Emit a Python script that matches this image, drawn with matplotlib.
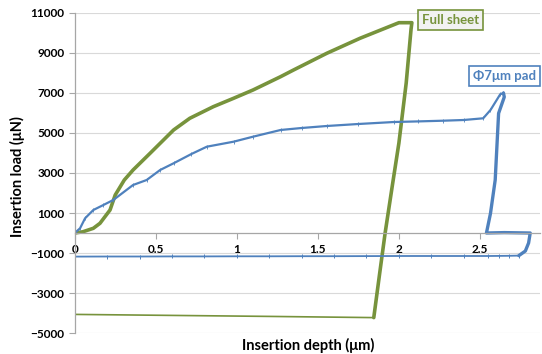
import matplotlib
matplotlib.use('Agg')
import matplotlib.pyplot as plt

# Full sheet: loading + unloading, then return line
green_x = [0, 0.05, 0.115, 0.156, 0.218, 0.25, 0.306, 0.36, 0.465, 0.61, 0.71, 0.855, 0.98, 1.10, 1.27,
           1.35, 1.555, 1.76, 2.0, 2.08, 2.075, 2.045, 2.0, 1.96, 1.915, 1.88, 1.845]
green_y = [0, 60, 235, 485, 1150, 1900, 2650, 3150, 3985, 5150, 5735, 6315, 6735, 7150, 7815,
           8150, 8985, 9735, 10515, 10515, 10200, 7500, 4500, 2400, 0, -2100, -4230]
green_ret_x = [1.845, 1.2, 0.6, 0]
green_ret_y = [-4230, -4170, -4120, -4070]

# 7um pad: loading, unloading, return line
blue_load_x = [0, 0.033, 0.064, 0.115, 0.177, 0.238, 0.36, 0.444, 0.527, 0.61, 0.72, 0.815, 0.98, 1.10,
               1.27, 1.40, 1.555, 1.75, 1.97, 2.12, 2.275, 2.40, 2.52, 2.565, 2.625, 2.645]
blue_load_y = [0, 235, 735, 1150, 1400, 1650, 2400, 2650, 3150, 3485, 3950, 4315, 4565, 4815,
               5150, 5250, 5350, 5450, 5550, 5580, 5615, 5650, 5735, 6150, 6935, 7000]
blue_unload_x = [2.645, 2.65, 2.615, 2.594, 2.565, 2.54, 2.65, 2.81, 2.80, 2.78, 2.74]
blue_unload_y = [7000, 6800, 5985, 2650, 985, 0, 20, 0, -500, -900, -1130]
blue_ret_x = [2.74, 2.68, 2.62, 2.55, 2.4, 2.2, 2.0, 1.8, 1.6, 1.4, 1.2, 1.0, 0.8, 0.6, 0.4, 0.2, 0]
blue_ret_y = [-1130, -1140, -1145, -1150, -1150, -1150, -1150, -1155, -1160, -1160, -1165, -1165,
              -1170, -1170, -1175, -1175, -1180]

y_ticks = [-5000, -3000, -1000, 1000, 3000, 5000, 7000, 9000, 11000]
x_ticks = [0, 0.5, 1, 1.5, 2, 2.5]

green = '#77933C'
blue = '#4F81BD'
plt.rcParams['font.family'] = ['Lato', 'DejaVu Sans']

fig = plt.figure(figsize=(5.42, 3.54), dpi=100)
ax = fig.add_axes([0.1378, 0.0593, 0.859, 0.904])

ax.plot(green_ret_x, green_ret_y, color=green, lw=1.2, solid_capstyle='round')
ax.plot(green_x, green_y, color=green, lw=2.6, solid_joinstyle='round', solid_capstyle='round')
ax.plot(blue_ret_x, blue_ret_y, color=blue, lw=1.3, marker='|', ms=2.5, mew=0.7)
ax.plot(blue_load_x, blue_load_y, color=blue, lw=1.6, marker='|', ms=2.2, mew=0.6,
        solid_joinstyle='round')
ax.plot(blue_unload_x, blue_unload_y, color=blue, lw=2.4, solid_joinstyle='round',
        solid_capstyle='round')

ax.set_xlim(0, 2.872)
ax.set_ylim(-5000, 11000)
ax.set_yticks(y_ticks)
ax.set_xticks(x_ticks)
ax.set_xticklabels(['0', '0.5', '1', '1.5', '2', '2.5'])
ax.grid(axis='y', color='#d9d9d9', lw=0.8)
ax.set_axisbelow(True)

ax.spines['top'].set_visible(False)
ax.spines['right'].set_visible(False)
ax.spines['bottom'].set_position(('data', 0))
for s in ['left', 'bottom']:
    ax.spines[s].set_color('#a6a6a6')
    ax.spines[s].set_linewidth(0.9)
ax.tick_params(axis='both', colors='#a6a6a6', length=4, width=0.8, labelcolor='black',
               labelsize=8.5)
ax.tick_params(axis='x', pad=4)
for lbl in ax.get_xticklabels() + ax.get_yticklabels():
    lbl.set_fontweight('bold')

fig.text(0.033, 0.5, 'Insertion load (μN)', rotation=90, ha='center', va='center',
         fontsize=10.5, fontweight='bold')
fig.text(0.568, 0.025, 'Insertion depth (μm)', ha='center', va='center',
         fontsize=10.5, fontweight='bold')

ax.text(2.32, 10650, 'Full sheet', color=green, fontsize=9.5, fontweight='bold',
        ha='center', va='center',
        bbox=dict(boxstyle='square,pad=0.3', fc='#f2f2f2', ec=green, lw=1.2))
ax.text(2.653, 7860, 'Φ7μm pad', color=blue, fontsize=9.5, fontweight='bold',
        ha='center', va='center',
        bbox=dict(boxstyle='square,pad=0.3', fc='white', ec=blue, lw=1.2))

fig.savefig('out.png', dpi=100)
